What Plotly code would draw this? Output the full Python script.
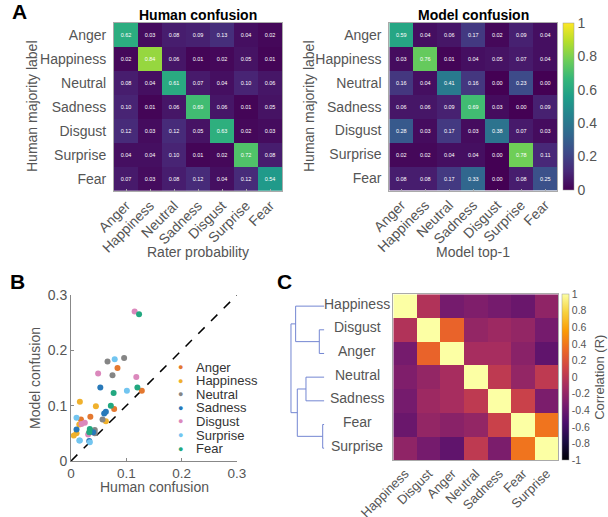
import plotly.graph_objects as go

W, H = 608, 517
def px(x): return x / W
def py(y): return 1 - y / H

emotions = ["Anger", "Happiness", "Neutral", "Sadness", "Disgust", "Surprise", "Fear"]

human_conf = [
    [0.62, 0.03, 0.08, 0.09, 0.13, 0.04, 0.02],
    [0.02, 0.84, 0.06, 0.01, 0.02, 0.05, 0.01],
    [0.08, 0.04, 0.61, 0.07, 0.04, 0.10, 0.06],
    [0.10, 0.01, 0.06, 0.69, 0.06, 0.01, 0.05],
    [0.12, 0.03, 0.12, 0.05, 0.63, 0.02, 0.03],
    [0.04, 0.04, 0.10, 0.01, 0.02, 0.72, 0.08],
    [0.07, 0.03, 0.08, 0.12, 0.04, 0.12, 0.54],
]
model_conf = [
    [0.59, 0.04, 0.06, 0.17, 0.02, 0.09, 0.04],
    [0.03, 0.76, 0.01, 0.04, 0.05, 0.07, 0.04],
    [0.16, 0.04, 0.41, 0.16, 0.00, 0.23, 0.00],
    [0.06, 0.06, 0.09, 0.69, 0.03, 0.00, 0.09],
    [0.28, 0.03, 0.17, 0.03, 0.38, 0.07, 0.03],
    [0.02, 0.02, 0.04, 0.04, 0.00, 0.78, 0.11],
    [0.08, 0.08, 0.17, 0.33, 0.00, 0.08, 0.25],
]

# Panel B scatter: human vs model confusion
anger_h = [0.084, 0.128, 0.078, 0.035, 0.018, 0.033]
anger_m = [0.168, 0.127, 0.094, 0.080, 0.075, 0.051]
hap_h = [0.016, 0.045, 0.063, 0.015, 0.010, 0.005]
hap_m = [0.107, 0.099, 0.072, 0.066, 0.050, 0.046]
neu_h = [0.066, 0.096, 0.075, 0.057, 0.043, 0.043]
neu_m = [0.180, 0.186, 0.155, 0.075, 0.056, 0.050]
sad_h = [0.053, 0.063, 0.060, 0.010, 0.033, 0.040]
sad_m = [0.133, 0.089, 0.086, 0.057, 0.036, 0.052]
dis_h = [0.115, 0.049, 0.118, 0.025, 0.019, 0.031]
dis_m = [0.270, 0.158, 0.152, 0.069, 0.067, 0.048]
sur_h = [0.079, 0.101, 0.010, 0.015, 0.016, 0.034]
sur_m = [0.184, 0.127, 0.078, 0.037, 0.037, 0.034]
fear_h = [0.123, 0.120, 0.077, 0.072, 0.034, 0.033]
fear_m = [0.265, 0.133, 0.123, 0.100, 0.058, 0.052]

scatter_series = [
    ("Anger", anger_h, anger_m, "#E4782F"),
    ("Happiness", hap_h, hap_m, "#F0B12C"),
    ("Neutral", neu_h, neu_m, "#858585"),
    ("Sadness", sad_h, sad_m, "#2879B9"),
    ("Disgust", dis_h, dis_m, "#DB88BC"),
    ("Surprise", sur_h, sur_m, "#72C5F0"),
    ("Fear", fear_h, fear_m, "#22A880"),
]

# Panel C correlation
corr_labels = ["Happiness", "Disgust", "Anger", "Neutral", "Sadness", "Fear", "Surprise"]
corr = [
    [1.00, -0.05, -0.35, -0.30, -0.35, -0.40, -0.22],
    [-0.05, 1.00, 0.30, -0.20, -0.15, -0.20, -0.35],
    [-0.35, 0.30, 1.00, -0.10, -0.10, -0.25, -0.45],
    [-0.30, -0.20, -0.10, 1.00, 0.02, -0.20, 0.02],
    [-0.35, -0.15, -0.10, 0.02, 1.00, 0.08, -0.32],
    [-0.40, -0.20, -0.25, -0.20, 0.08, 1.00, 0.38],
    [-0.22, -0.35, -0.45, 0.02, -0.32, 0.38, 1.00],
]
# dendrogram merges (left idx, right idx, height); leaves 0..6, new nodes 7..
dendro_merges = [(1, 2, 0.15), (5, 6, 0.048), (3, 4, 0.55), (0, 7, 0.86), (9, 8, 0.81), (10, 11, 1.0)]

FONT = "Liberation Sans, Arial, sans-serif"
GRAY = "#555555"

fig = go.Figure()

hm_common = dict(colorscale="Viridis", zmin=0, zmax=1, texttemplate="%{z:.2f}",
                 textfont=dict(size=5.5, color="white", family=FONT), xgap=0, ygap=0)
fig.add_trace(go.Heatmap(z=human_conf, x=emotions, y=emotions, showscale=False,
                         xaxis="x", yaxis="y", **hm_common))
fig.add_trace(go.Heatmap(z=model_conf, x=emotions, y=emotions, xaxis="x2", yaxis="y2",
                         colorbar=dict(x=px(563), xanchor="left", xpad=0, y=py(106.4), yanchor="middle",
                                       len=167.3 / H, lenmode="fraction", thickness=11, ypad=0,
                                       outlinewidth=0.5, outlinecolor="#999",
                                       tickvals=[0, 0.2, 0.4, 0.6, 0.8, 1],
                                       ticktext=["0", "0.2", "0.4", "0.6", "0.8", "1"],
                                       ticks="", tickfont=dict(size=14, color=GRAY, family=FONT)),
                         **hm_common))

# B scatter
fig.add_trace(go.Scatter(x=[0, 0.3], y=[0, 0.3], mode="lines", xaxis="x3", yaxis="y3",
                         line=dict(color="black", dash="dash", width=1.5), showlegend=False,
                         hoverinfo="skip"))
for name, hx, my, col in scatter_series:
    fig.add_trace(go.Scatter(x=hx, y=my, mode="markers", name=name, xaxis="x3", yaxis="y3",
                             marker=dict(size=6, color=col), showlegend=False))

# C heatmap
fig.add_trace(go.Heatmap(z=corr, x=corr_labels, y=corr_labels, colorscale="Inferno", zmin=-1, zmax=1,
                         xaxis="x4", yaxis="y4",
                         colorbar=dict(x=px(561.7), xanchor="left", xpad=0, ypad=0, y=py(377.2),
                                       yanchor="middle",
                                       len=165.7 / H, thickness=7, outlinewidth=0.5, outlinecolor="#999",
                                       tickvals=[1, 0.8, 0.6, 0.4, 0.2, 0, -0.2, -0.4, -0.6, -0.8, -1],
                                       ticktext=["1", "0.8", "0.6", "0.4", "0.2", "0", "-0.2", "-0.4",
                                                 "-0.6", "-0.8", "-1"],
                                       ticks="", tickfont=dict(size=10.5, color=GRAY, family=FONT),
                                       title=dict(text="Correlation (R)", side="right",
                                                  font=dict(size=13, color=GRAY, family=FONT)))))

# Dendrogram
node_y = {i: float(i) for i in range(7)}
node_h = {i: 0.0 for i in range(7)}
nid = 7
for a, b, h in dendro_merges:
    xs = [node_h[a], h, h, node_h[b]]
    ys = [node_y[a], node_y[a], node_y[b], node_y[b]]
    fig.add_trace(go.Scatter(x=xs, y=ys, mode="lines", xaxis="x5", yaxis="y5",
                             line=dict(color="#7486D2", width=1), showlegend=False, hoverinfo="skip"))
    node_y[nid] = (node_y[a] + node_y[b]) / 2
    node_h[nid] = h
    nid += 1

frame = dict(showline=True, mirror=True, linecolor="#aaaaaa", linewidth=1, showgrid=False,
             zeroline=False, automargin=False)
tickf = dict(size=14, color=GRAY, family=FONT)
tickfc = dict(size=13, color=GRAY, family=FONT)

layout = dict(
    width=W, height=H, margin=dict(l=0, r=0, t=0, b=0, autoexpand=False),
    paper_bgcolor="white", plot_bgcolor="white",
    font=dict(family=FONT, color=GRAY),
    xaxis=dict(domain=[px(114), px(282)], anchor="y", tickangle=-45, tickfont=tickf,
               ticks="inside", ticklen=2, tickcolor="#aaa", **frame),
    yaxis=dict(domain=[py(191), py(22.7)], anchor="x", autorange="reversed", tickfont=tickf,
               ticks="", ticklabelstandoff=4, **frame),
    xaxis2=dict(domain=[px(389.3), px(557)], anchor="y2", tickangle=-45, tickfont=tickf,
                ticks="inside", ticklen=2, tickcolor="#aaa", **frame),
    yaxis2=dict(domain=[py(190.5), py(22.7)], anchor="x2", autorange="reversed", tickfont=tickf,
                ticks="", ticklabelstandoff=4, **frame),
    xaxis3=dict(domain=[px(71), px(237)], anchor="y3", range=[0, 0.3], showgrid=False, zeroline=False,
                showline=True, linecolor="#888", tickvals=[0, 0.1, 0.2, 0.3], automargin=False,
                ticktext=["0", "0.1", "0.2", "0.3"], ticks="inside", ticklen=3, tickcolor="#888",
                tickfont=dict(size=13.5, color=GRAY, family=FONT)),
    yaxis3=dict(domain=[py(461), py(295)], anchor="x3", range=[0, 0.3], showgrid=False, zeroline=False,
                showline=True, linecolor="#888", tickvals=[0, 0.1, 0.2, 0.3], automargin=False,
                ticktext=["0", "0.1", "0.2", "0.3"], ticks="inside", ticklen=3, tickcolor="#888",
                tickfont=dict(size=14, color=GRAY, family=FONT)),
    xaxis4=dict(domain=[px(393.3), px(558.3)], anchor="y4", tickangle=-45, tickfont=tickfc,
                ticks="", **frame),
    yaxis4=dict(domain=[py(460), py(294.3)], anchor="x4", autorange="reversed", showticklabels=False,
                ticks="", **frame),
    xaxis5=dict(domain=[px(289.3), px(324.3)], anchor="y5", range=[1.05, 0], visible=False,
                automargin=False),
    yaxis5=dict(domain=[py(460), py(294.3)], anchor="x5", range=[6.5, -0.5], visible=False,
                automargin=False),
)

ann = []
def A(text, x, y, size, color=GRAY, bold=False, angle=0, xanchor="center", yanchor="middle", **kw):
    t = f"<b>{text}</b>" if bold else text
    ann.append(dict(text=t, x=x, y=y, xref=kw.get("xref", "paper"), yref=kw.get("yref", "paper"),
                    showarrow=False, textangle=angle, xanchor=xanchor, yanchor=yanchor,
                    font=dict(size=size, color=color, family=FONT)))

A("A", px(19), py(12), 21, "black", bold=True)
A("B", px(17), py(281), 21, "black", bold=True)
A("C", px(284), py(281), 21, "black", bold=True)
A("Human confusion", px(198), py(15), 14, "black", bold=True)
A("Model confusion", px(473), py(15), 14, "black", bold=True)
A("Human majority label", px(32), py(106), 14, GRAY, angle=-90)
A("Human majority label", px(309), py(106), 14, GRAY, angle=-90)
A("Rater probability", px(198), py(252), 14, GRAY)
A("Model top-1", px(473), py(252), 14, GRAY)
A("Human confusion", px(154), py(487), 14, GRAY)
A("Model confusion", px(35), py(378), 14, GRAY, angle=-90)

# manual legend for B
for i, (name, hx, my, col) in enumerate(scatter_series):
    yy = py(367 + 13.6 * i)
    A("●", px(180), yy, 9, col)
    A(name, px(194), yy, 13, "#333", xanchor="left")

# C row labels beside dendrogram
for i, lab in enumerate(corr_labels):
    A(lab, px(357), i - 0.1, 14, GRAY, yref="y5")

layout["annotations"] = ann
fig.update_layout(**layout)
fig.write_html("out.html", config={"displayModeBar": False},
               post_script="document.body.style.margin='0';document.body.style.overflow='hidden';")
